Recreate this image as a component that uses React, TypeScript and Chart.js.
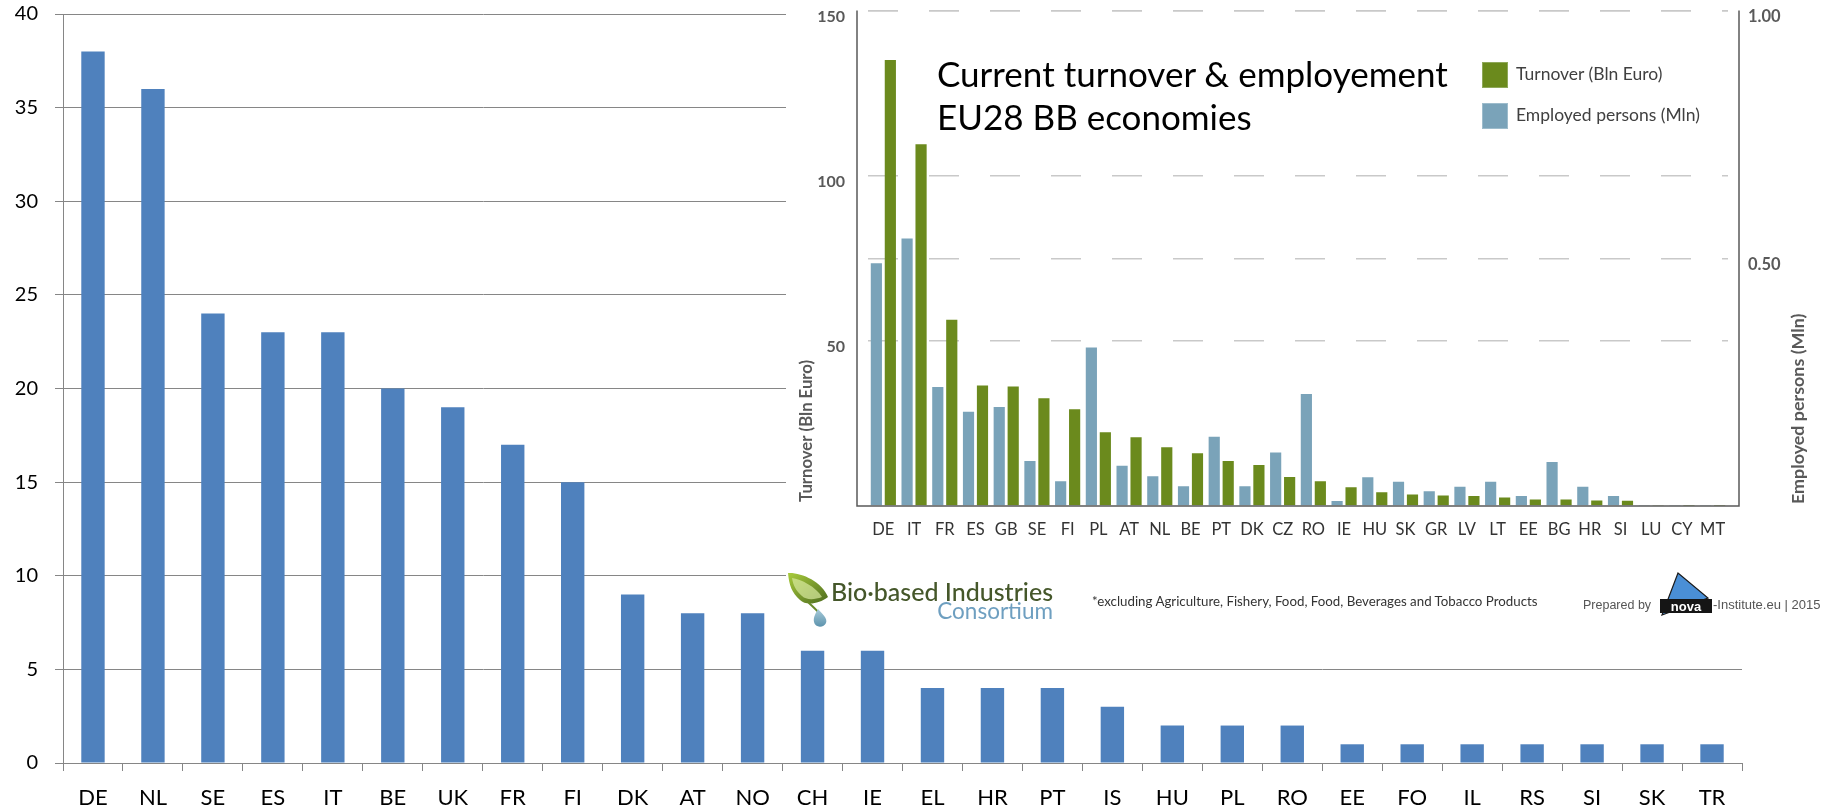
import React, { useEffect, useRef } from "react";
import { Chart, registerables } from "chart.js";

Chart.register(...registerables);

// ---------- Main chart data ----------
const mainCategories = ["DE", "NL", "SE", "ES", "IT", "BE", "UK", "FR", "FI", "DK", "AT", "NO", "CH", "IE", "EL", "HR", "PT", "IS", "HU", "PL", "RO", "EE", "FO", "IL", "RS", "SI", "SK", "TR"];
const mainValues = [38, 36, 24, 23, 23, 20, 19, 17, 15, 9, 8, 8, 6, 6, 4, 4, 4, 3, 2, 2, 2, 1, 1, 1, 1, 1, 1, 1];
const mainYMax = 40;
const mainYStep = 5;

// ---------- Inset chart data ----------
const insetCategories = ["DE", "IT", "FR", "ES", "GB", "SE", "FI", "PL", "AT", "NL", "BE", "PT", "DK", "CZ", "RO", "IE", "HU", "SK", "GR", "LV", "LT", "EE", "BG", "HR", "SI", "LU", "CY", "MT"];
const turnoverBlnEuro = [135, 109.5, 56.4, 36.5, 36.2, 32.6, 29.3, 22.3, 20.8, 17.8, 16.0, 13.6, 12.4, 8.8, 7.5, 5.7, 4.2, 3.5, 3.2, 3.0, 2.6, 2.0, 2.0, 1.7, 1.6, 0.3, 0.1, 0.1];
const employedMln = [0.49, 0.54, 0.24, 0.19, 0.2, 0.091, 0.05, 0.32, 0.081, 0.06, 0.04, 0.14, 0.04, 0.108, 0.226, 0.01, 0.058, 0.049, 0.03, 0.039, 0.049, 0.02, 0.089, 0.039, 0.02, 0.002, 0.001, 0.001];
const turnoverMax = 150;
const turnoverStep = 50;
const employedMax = 1;
const employedStep = 0.5;

const seriesNames = ["Turnover (Bln Euro)", "Employed persons (Mln)"];
const titleLines = ["Current turnover & employement", "EU28 BB economies"];
const axisTitles = ["Turnover (Bln Euro)", "Employed persons (Mln)"];
const footnote = "*excluding Agriculture, Fishery, Food, Food, Beverages and Tobacco Products";

const GREEN = "#6b8a1d";
const BLUE = "#7aa3b9";

const insetAxesPlugin = {
  id: "insetAxes",
  afterDraw(chart: any) {
    const { ctx, chartArea } = chart;
    const y0 = chart.scales.y.getPixelForValue(0);
    const yTop = chart.scales.y.getPixelForValue(turnoverMax);
    const lx = chartArea.left - 11;
    const rx = chartArea.right + 11;
    ctx.save();
    ctx.strokeStyle = "#5a5a5a";
    ctx.lineWidth = 1.5;
    ctx.beginPath();
    ctx.moveTo(lx, yTop);
    ctx.lineTo(lx, y0);
    ctx.lineTo(rx, y0);
    ctx.lineTo(rx, yTop);
    ctx.stroke();
    // axis titles
    ctx.fillStyle = "#595959";
    ctx.textBaseline = "middle";
    ctx.textAlign = "left";
    ctx.save();
    ctx.font = "bold 16.7px Lato";
    ctx.translate(21, y0 - 4);
    ctx.rotate(-Math.PI / 2);
    ctx.fillText(axisTitles[0], 0, 0);
    ctx.restore();
    ctx.save();
    ctx.font = "bold 17.9px Lato";
    ctx.translate(1012, y0 - 2);
    ctx.rotate(-Math.PI / 2);
    ctx.fillText(axisTitles[1], 0, 0);
    ctx.restore();
    ctx.restore();
  },
};

const zeroPad = (s: any) => {
  s.paddingTop = 0;
  s.paddingBottom = 0;
  s.paddingLeft = 0;
  s.paddingRight = 0;
};

export default function App() {
  const mainRef = useRef<HTMLCanvasElement>(null);
  const insetRef = useRef<HTMLCanvasElement>(null);

  useEffect(() => {
    const main = new Chart(mainRef.current!, {
      type: "bar",
      data: {
        labels: mainCategories,
        datasets: [
          {
            data: mainValues,
            backgroundColor: "#4F81BD",
            categoryPercentage: 1,
            barPercentage: 0.39,
          },
        ],
      },
      options: {
        animation: false,
        responsive: false,
        maintainAspectRatio: false,
        layout: { padding: { top: 14, right: 80, left: 0, bottom: 0 } },
        plugins: { legend: { display: false }, tooltip: { enabled: false } },
        scales: {
          x: {
            grid: { drawOnChartArea: false, drawTicks: true, tickLength: 8, color: "#868686", offset: true },
            border: { color: "#868686" },
            ticks: { font: { family: "Lato", size: 22 }, color: "#000", padding: 14, autoSkip: false, maxRotation: 0 },
            afterFit: (s: any) => {
              s.height = 48;
              zeroPad(s);
            },
          },
          y: {
            min: 0,
            max: mainYMax,
            ticks: { stepSize: mainYStep, font: { family: "Lato", size: 20 }, color: "#000", padding: 17 },
            grid: { color: "#868686", tickLength: 8 },
            border: { color: "#868686" },
            afterFit: (s: any) => {
              s.width = 63;
              zeroPad(s);
            },
          },
        },
      },
    });

    const gridColor = (c: any) => (c.tick && c.tick.value === 0 ? "rgba(0,0,0,0)" : "#c9c9c9");

    const inset = new Chart(insetRef.current!, {
      type: "bar",
      data: {
        labels: insetCategories,
        datasets: [
          {
            label: seriesNames[1],
            data: employedMln,
            backgroundColor: BLUE,
            yAxisID: "y1",
            categoryPercentage: 0.91,
            barPercentage: 0.8,
          },
          {
            label: seriesNames[0],
            data: turnoverBlnEuro,
            backgroundColor: GREEN,
            yAxisID: "y",
            categoryPercentage: 0.91,
            barPercentage: 0.8,
          },
        ],
      },
      options: {
        animation: false,
        responsive: false,
        maintainAspectRatio: false,
        layout: { padding: { top: 10.5, left: 0, right: 0, bottom: 0 } },
        plugins: { legend: { display: false }, tooltip: { enabled: false } },
        scales: {
          x: {
            grid: { display: false },
            border: { display: false },
            ticks: { font: { family: "Lato", size: 16.5 }, color: "#333", padding: 6, autoSkip: false, maxRotation: 0 },
            afterFit: (s: any) => {
              s.height = 134;
              zeroPad(s);
            },
          },
          y: {
            position: "left",
            min: 0,
            max: turnoverMax,
            ticks: {
              stepSize: turnoverStep,
              callback: (v: any) => (v === 0 ? "" : String(v)),
              font: { family: "Lato", size: 16, weight: "bold" },
              color: "#595959",
              padding: 23,
              labelOffset: 6,
            },
            grid: { color: gridColor, lineWidth: 1.5, drawTicks: false },
            border: { display: false, dash: [30, 31] },
            afterFit: (s: any) => {
              s.width = 82;
              zeroPad(s);
            },
          },
          y1: {
            position: "right",
            min: 0,
            max: employedMax,
            ticks: {
              stepSize: employedStep,
              callback: (v: any) => (v === 0 ? "" : Number(v).toFixed(2)),
              font: { family: "Lato", size: 16.5, weight: "bold" },
              color: "#595959",
              padding: 20,
              labelOffset: 6,
            },
            grid: { color: gridColor, lineWidth: 1.5, drawTicks: false },
            border: { display: false, dash: [30, 31] },
            afterFit: (s: any) => {
              s.width = 94;
              zeroPad(s);
            },
          },
        },
      },
      plugins: [insetAxesPlugin],
    });

    return () => {
      main.destroy();
      inset.destroy();
    };
  }, []);

  return (
    <div style={{ position: "absolute", left: 0, top: 0, width: 1822, height: 811, overflow: "hidden", background: "#fff" }}>
      <canvas ref={mainRef} width={1822} height={811} style={{ position: "absolute", left: 0, top: 0, width: 1822, height: 811 }} />
      <div style={{ position: "absolute", left: 786, top: 0, width: 1036, height: 640, background: "#fff" }}>
        <canvas ref={insetRef} width={1036} height={640} style={{ position: "absolute", left: 0, top: 0, width: 1036, height: 640 }} />
      </div>
      {/* title */}
      <div style={{ position: "absolute", left: 937, top: 52, fontFamily: "Lato", fontSize: 35, lineHeight: "43.3px", color: "#000", whiteSpace: "nowrap" }}>
        <div>{titleLines[0]}</div>
        <div>{titleLines[1]}</div>
      </div>
      {/* legend */}
      <div style={{ position: "absolute", left: 1482, top: 62, width: 26, height: 26, background: GREEN, boxSizing: "border-box", border: "1px solid #8fa85a" }} />
      <div style={{ position: "absolute", left: 1516, top: 63, fontFamily: "Lato", fontSize: 17.5, lineHeight: "22px", color: "#404040", whiteSpace: "nowrap" }}>{seriesNames[0]}</div>
      <div style={{ position: "absolute", left: 1482, top: 103, width: 26, height: 26, background: BLUE, boxSizing: "border-box", border: "1px solid #9dbccc" }} />
      <div style={{ position: "absolute", left: 1516, top: 104, fontFamily: "Lato", fontSize: 17.5, lineHeight: "22px", color: "#404040", whiteSpace: "nowrap" }}>{seriesNames[1]}</div>
      {/* logos */}
      <svg width={1822} height={811} style={{ position: "absolute", left: 0, top: 0, pointerEvents: "none" }}>
        <defs>
          <linearGradient id="leafg" x1="0" y1="0" x2="1" y2="1">
            <stop offset="0" stopColor="#a9cc3c" />
            <stop offset="1" stopColor="#4d6b1e" />
          </linearGradient>
          <linearGradient id="dropg" x1="0" y1="0" x2="0" y2="1">
            <stop offset="0" stopColor="#a8cbd9" />
            <stop offset="1" stopColor="#5d93ad" />
          </linearGradient>
        </defs>
        <path d="M 788 573 C 800 572 822 581 828 597 C 819 604 806 606 800 600 C 792 593 789 585 788 573 Z" fill="url(#leafg)" />
        <path d="M 792 578 C 801 579 816 587 822 597 C 814 600 806 600 802 596 C 796 591 793 585 792 578 Z" fill="#d8eaa0" opacity="0.7" />
        <path d="M 808 602 C 812 606 816 609 818 612" stroke="#6a8a2a" strokeWidth="2" fill="none" />
        <path d="M 818 609 C 822 614 828 618 826 623 C 824 628 815 628 814 622 C 813 617 816 613 818 609 Z" fill="url(#dropg)" />
        <polygon points="1662,615 1678,573 1708,598" fill="#4a8fd6" stroke="#1a1a1a" strokeWidth="1.2" />
        <rect x={1660} y={599} width={52} height={14} fill="#151515" />
        <text x={1686} y={610.5} textAnchor="middle" fontFamily="Liberation Sans" fontWeight="bold" fontSize={13} fill="#fff">nova</text>
      </svg>
      <div style={{ position: "absolute", right: 1822 - 1053, top: 576, fontFamily: "Lato", fontSize: 25, lineHeight: "30px", fontWeight: 500, color: "#45572a", whiteSpace: "nowrap" }}>Bio·based Industries</div>
      <div style={{ position: "absolute", right: 1822 - 1053, top: 598, fontFamily: "Lato", fontSize: 22.5, lineHeight: "26px", color: "#6e9fc0", whiteSpace: "nowrap" }}>Consortium</div>
      <div style={{ position: "absolute", left: 1092, top: 593, fontFamily: "Lato", fontSize: 13.3, lineHeight: "17px", color: "#333", whiteSpace: "nowrap" }}>{footnote}</div>
      <div style={{ position: "absolute", left: 1583, top: 597, fontFamily: "Liberation Sans", fontSize: 12.5, lineHeight: "16px", color: "#555", whiteSpace: "nowrap" }}>Prepared by</div>
      <div style={{ position: "absolute", left: 1713, top: 597, fontFamily: "Liberation Sans", fontSize: 13, lineHeight: "16px", color: "#555", whiteSpace: "nowrap" }}>-Institute.eu | 2015</div>
    </div>
  );
}
